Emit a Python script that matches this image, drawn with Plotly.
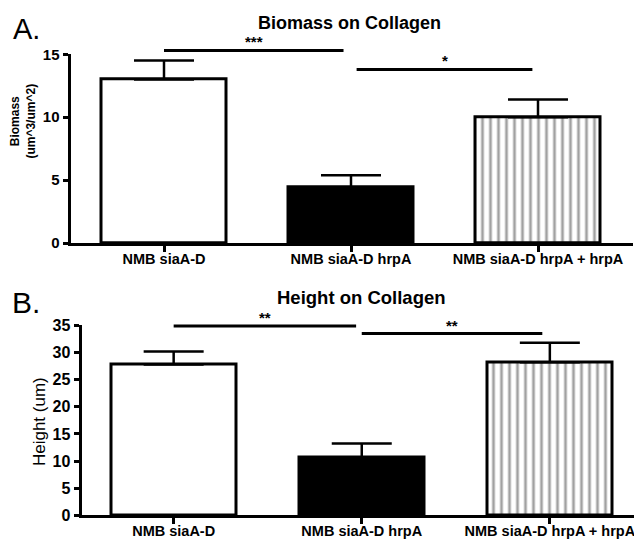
import plotly.graph_objects as go

# ---------------- data ----------------
categories = ["NMB siaA-D", "NMB siaA-D hrpA", "NMB siaA-D hrpA + hrpA"]
biomass_mean = [13.0, 4.4, 10.0]
biomass_err = [1.5, 1.0, 1.4]
height_mean = [27.8, 10.6, 28.2]
height_err = [2.4, 2.65, 3.6]

biomass_ticks = [0, 5, 10, 15]
height_ticks = [0, 5, 10, 15, 20, 25, 30, 35]

# significance bars: start/end position (category index), height, label
biomass_sig_start = [0.0, 1.03]
biomass_sig_end = [0.96, 1.97]
biomass_sig_y = [15.3, 13.8]
biomass_sig_label = ["***", "*"]

height_sig_start = [0.0, 1.0]
height_sig_end = [0.97, 1.96]
height_sig_y = [34.9, 33.5]
height_sig_label = ["**", "**"]

# ---------------- layout geometry ----------------
W, H = 642, 542
FONT = "Liberation Sans, Arial, sans-serif"
# measured placement of the plotting area in the viewer's picture
VX0, VX1 = 8.0, 650.0
VY0, VY1 = 15.6, 541.3

def px_x(p):
    return min(max((p - VX0) / (VX1 - VX0), 0.0), 1.0)

def px_y(p):
    return min(max(1 - (p - VY0) / (VY1 - VY0), 0.0), 1.0)

A_x = [px_x(70.5), px_x(633)]
A_y = [px_y(242.5), px_y(53)]
B_x = [px_x(81.5), px_x(642)]
B_y = [px_y(515.5), px_y(325)]
EXT = 0.03  # extra headroom for the significance overlay axes

xidx = list(range(len(categories)))
fill_colors = ["white", "black", "white"]
patterns = ["", "", "|"]

fig = go.Figure()

def add_panel(fig, means, errs, xa, ya):
    fig.add_trace(go.Bar(
        x=xidx, y=means, width=0.665,
        marker=dict(color=fill_colors,
                    line=dict(color="black", width=3),
                    pattern=dict(shape=patterns, fgcolor="black", bgcolor="white",
                                 size=8, solidity=0.35, fillmode="overlay")),
        error_y=dict(type="data", array=errs, arrayminus=[0] * len(errs),
                     symmetric=False, color="black", thickness=2.5, width=30),
        xaxis=xa, yaxis=ya, showlegend=False, hoverinfo="skip",
    ))

def add_sig(fig, starts, ends, ys, labels, xa, ya):
    for s, e, y, lab in zip(starts, ends, ys, labels):
        fig.add_trace(go.Scatter(
            x=[s, e], y=[y, y], mode="lines",
            line=dict(color="black", width=3),
            xaxis=xa, yaxis=ya, showlegend=False, hoverinfo="skip",
        ))
        fig.add_annotation(
            x=(s + e) / 2, y=y, xref=xa, yref=ya, text=lab, showarrow=False,
            xanchor="center", yanchor="bottom", yshift=-2,
            font=dict(family=FONT, size=15, color="black", weight="bold"),
        )

add_panel(fig, biomass_mean, biomass_err, "x", "y")
add_panel(fig, height_mean, height_err, "x2", "y2")
add_sig(fig, biomass_sig_start, biomass_sig_end, biomass_sig_y, biomass_sig_label, "x3", "y3")
add_sig(fig, height_sig_start, height_sig_end, height_sig_y, height_sig_label, "x4", "y4")

xrange = [-0.5, 2.508]
xrangeB = [-0.49, 2.49]
A_top = max(biomass_ticks)
B_top = max(height_ticks)

axis_common = dict(showline=True, linecolor="black", linewidth=3, ticks="outside",
                   tickcolor="black", tickwidth=3, showgrid=False, zeroline=False,
                   fixedrange=True)

fig.update_layout(
    width=W, height=H, margin=dict(l=0, r=0, t=0, b=0),
    paper_bgcolor="white", plot_bgcolor="rgba(0,0,0,0)", bargap=0,
    font=dict(family=FONT, color="black"),
    xaxis=dict(domain=A_x, range=xrange, anchor="y", tickvals=xidx, ticktext=categories,
               ticklen=6, tickfont=dict(size=14.5, weight="bold"),
               ticklabelstandoff=-6, ticklabeloverflow="allow", **axis_common),
    yaxis=dict(domain=A_y, range=[0, A_top], anchor="x", tickvals=biomass_ticks,
               ticklen=5, tickfont=dict(size=15, weight="bold"), **axis_common),
    xaxis2=dict(domain=B_x, range=xrangeB, anchor="y2", tickvals=xidx, ticktext=categories,
                ticklen=6, tickfont=dict(size=14.5, weight="bold"),
                ticklabelstandoff=-6, ticklabeloverflow="allow", **axis_common),
    yaxis2=dict(domain=B_y, range=[0, B_top], anchor="x2", tickvals=height_ticks,
                ticklen=5, tickfont=dict(size=16, weight="bold"), **axis_common),
    xaxis3=dict(domain=A_x, range=xrange, anchor="y3", visible=False, fixedrange=True),
    yaxis3=dict(domain=[A_y[0], A_y[1] + EXT],
                range=[0, A_top * (A_y[1] + EXT - A_y[0]) / (A_y[1] - A_y[0])],
                anchor="x3", visible=False, fixedrange=True),
    xaxis4=dict(domain=B_x, range=xrangeB, anchor="y4", visible=False, fixedrange=True),
    yaxis4=dict(domain=[B_y[0], B_y[1] + EXT],
                range=[0, B_top * (B_y[1] + EXT - B_y[0]) / (B_y[1] - B_y[0])],
                anchor="x4", visible=False, fixedrange=True),
)

def label(x, y, text, size, weight="normal", angle=0, xanchor="center"):
    fig.add_annotation(x=(x - VX0) / (VX1 - VX0), y=1 - (y - VY0) / (VY1 - VY0),
                       xref="paper", yref="paper",
                       xanchor=xanchor, yanchor="middle", text=text, showarrow=False,
                       textangle=angle,
                       font=dict(family=FONT, size=size, weight=weight, color="black"))

# titles, panel letters, y-axis titles
label(350, 22, "Biomass on Collagen", 18, "bold")
label(361, 297, "Height on Collagen", 18.5, "bold")
label(11, 28, "A.", 29, xanchor="left")
label(10, 302, "B.", 30, xanchor="left")
label(23.5, 120, "Biomass<br>(um^3/um^2)", 12, "bold", angle=-90)
label(39, 422, "Height (um)", 17, angle=-90)

fig.write_html("out.html")
